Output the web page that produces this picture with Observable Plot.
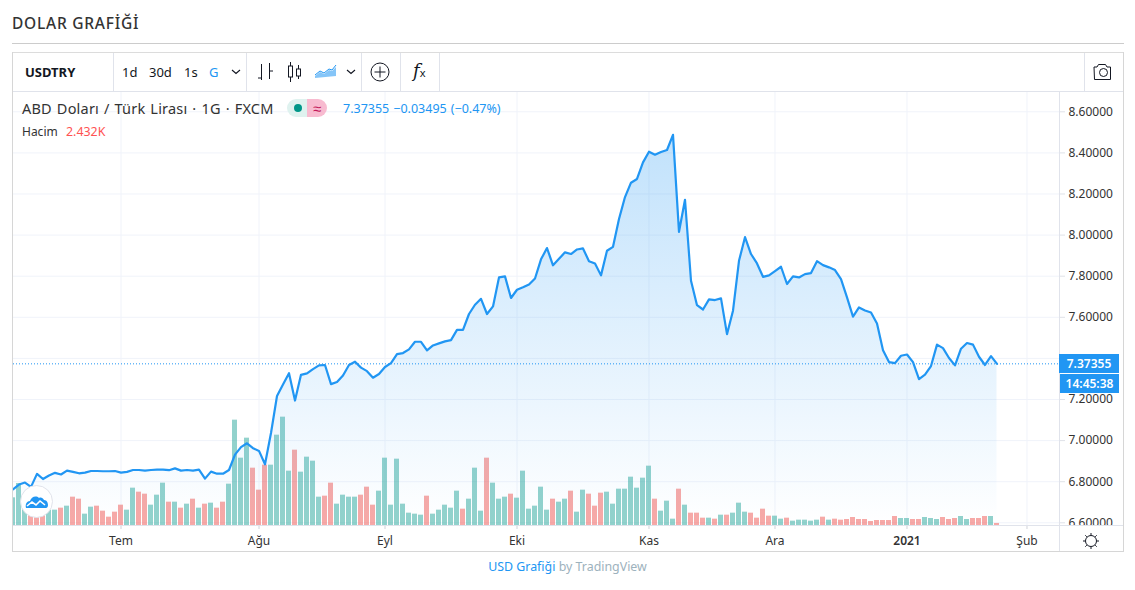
<!DOCTYPE html>
<html lang="tr"><head><meta charset="utf-8">
<script src="https://cdn.jsdelivr.net/npm/d3@7"></script>
<script src="https://cdn.jsdelivr.net/npm/@observablehq/plot@0.6"></script>
<style>
html,body{margin:0;padding:0;background:#fff;}
body{width:1135px;height:590px;position:relative;overflow:hidden;font-family:"Noto Sans",sans-serif;color:#333;}
.a{position:absolute;white-space:nowrap;}
.l{position:absolute;background:#e0e3eb;}
svg{display:block;}
#main,#xaxis{position:absolute;left:0;}
#main{top:92px;} #xaxis{top:526px;}
.tb{font-size:13px;color:#131722;line-height:16px;}
</style></head><body>
<div class="a" style="left:12px;top:13px;font-size:15.5px;font-weight:500;letter-spacing:.75px;color:#333;line-height:20px;">DOLAR GRAFİĞİ</div>
<div class="l" style="left:12px;top:43px;width:1112px;height:1px;background:#ccc;"></div>
<div id="main"></div><div id="xaxis"></div>
<div class="l" style="left:12px;top:52px;width:1112px;height:1px;background:#dcdcdc"></div>
<div class="l" style="left:12px;top:551px;width:1112px;height:1px;background:#d6d6d6"></div>
<div class="l" style="left:12px;top:52px;width:1px;height:500px;background:#d6d6d6"></div>
<div class="l" style="left:1123px;top:52px;width:1px;height:500px;background:#d6d6d6"></div>
<div class="l" style="left:13px;top:91px;width:1110px;height:1px"></div>
<div class="l" style="left:13px;top:525px;width:1110px;height:1px"></div>
<div class="l" style="left:1059px;top:92px;width:1px;height:459px"></div>
<div class="l" style="left:113px;top:53px;width:1px;height:38px"></div>
<div class="l" style="left:246px;top:53px;width:1px;height:38px"></div>
<div class="l" style="left:361px;top:53px;width:1px;height:38px"></div>
<div class="l" style="left:400px;top:53px;width:1px;height:38px"></div>
<div class="l" style="left:439px;top:53px;width:1px;height:38px"></div>
<div class="l" style="left:1084px;top:53px;width:1px;height:38px"></div>
<div class="a tb" style="left:25px;top:64px;font-weight:700;font-size:13px;">USDTRY</div>
<div class="a tb" style="left:122px;top:64px;">1d</div>
<div class="a tb" style="left:149px;top:64px;">30d</div>
<div class="a tb" style="left:184px;top:64px;">1s</div>
<div class="a tb" style="left:209px;top:64px;color:#2196f3;">G</div>
<svg class="a" style="left:0;top:0;pointer-events:none" width="1135" height="590" fill="none" stroke="#131722" stroke-width="1">
 <path d="M232 70l4 3.5 4-3.5M347 70l4 3.5 4-3.5" stroke-width="1.1"/>
 <path d="M261.5 64v16M258 78h3.5M269.5 63v16M269.5 71h3.5"/>
 <rect x="288.5" y="66" width="4" height="11"/><path d="M290.5 62v4M290.5 77v5"/>
 <rect x="296.5" y="69" width="4" height="7"/><path d="M298.5 65v4M298.5 76v3"/>
 <path d="M315 75l5-4 4 2 5-4 3 1 4-5" stroke="#2196f3"/>
 <path d="M315 78v-2l5-4 4 2 5-4 3 1 4-4v9z" fill="#2196f3" opacity=".55" stroke="none"/>
 <circle cx="380" cy="72" r="9"/><path d="M380 66.5v11M374.5 72h11"/>
 <path d="M1094 66h3l1.5-2.5h7l1.5 2.5h3.5v12.5h-16z" stroke-linejoin="round" transform="translate(0,1)"/>
 <circle cx="1103.5" cy="72.5" r="4"/>
 <g transform="translate(1091,541)"><circle r="5.5"/><path d="M0-8v2M0 6v2M-8 0h2M6 0h2M-5.7-5.7l1.5 1.5M4.2 4.2l1.5 1.5M-5.7 5.7l1.5-1.5M4.2-4.2l1.5-1.5"/></g>
</svg>
<div class="a" style="left:413px;top:60px;font-family:'DejaVu Serif',serif;font-style:italic;font-size:18px;line-height:22px;color:#131722;">f<span style="font-size:11px;font-style:normal;font-family:'Noto Sans'">x</span></div>
<div class="a" style="left:22px;top:99px;font-size:14.5px;line-height:19px;color:#333;word-spacing:1px;letter-spacing:.2px;">ABD Doları / Türk Lirası · 1G · FXCM</div>
<svg class="a" style="left:287px;top:99px" width="40" height="18"><path d="M9 0H20V18H9A9 9 0 0 1 9 0z" fill="#dff2ef"/><path d="M20 0H31A9 9 0 0 1 31 18H20z" fill="#f8bbd0"/><circle cx="11" cy="9" r="4" fill="#009688"/></svg>
<div class="a" style="left:307px;top:99px;width:20px;text-align:center;font-size:15px;line-height:18px;color:#c2185b;">≈</div>
<div class="a" style="left:343px;top:100px;font-size:12.5px;line-height:18px;color:#2196f3;word-spacing:.8px;" id="vals"></div>
<div class="a" style="left:22px;top:124px;font-size:12px;line-height:16px;color:#333;">Hacim</div>
<div class="a" style="left:66px;top:124px;font-size:12.4px;line-height:16px;color:#ff5252;" id="volv"></div>
<div class="a" id="pl" style="left:1059px;width:60px;height:19px;background:#2196f3;color:#fff;font-weight:600;font-size:12px;line-height:19px;text-align:center;"></div>
<div class="a" id="tl" style="left:1060px;width:59px;height:19px;background:#2196f3;color:#fff;font-weight:600;font-size:12px;line-height:19px;text-align:center;">14:45:38</div>
<svg class="a" style="left:20px;top:485px" width="33" height="33">
 <circle cx="16.5" cy="16.5" r="16" fill="#fff" stroke="#e0e3eb"/>
 <path d="M6 23c-1-4 1-7 4-7 1-4 6-6 9-3 2-1 4 0 5 2 3 0 4 3 4 5 0 2-1 3-2 3z" fill="#2196f3"/>
 <path d="M7 21l5-4 4 3 4-4 5 4" stroke="#fff" stroke-width="1.6" fill="none"/>
</svg>
<div class="a" style="left:0;width:1135px;top:558px;text-align:center;font-size:12.4px;line-height:18px;color:#9db2bd;"><span style="color:#2196f3">USD Grafiği</span> by TradingView</div>
<script>
const price = [6.763,6.786,6.796,6.775,6.838,6.813,6.830,6.843,6.835,6.854,6.848,6.841,6.844,6.852,6.852,6.851,6.851,6.852,6.844,6.848,6.857,6.857,6.854,6.857,6.859,6.859,6.856,6.865,6.854,6.857,6.854,6.859,6.815,6.849,6.839,6.839,6.857,6.932,6.968,6.987,6.963,6.950,6.885,7.037,7.217,7.273,7.328,7.195,7.320,7.327,7.348,7.366,7.368,7.275,7.285,7.317,7.368,7.384,7.355,7.338,7.306,7.324,7.358,7.377,7.421,7.426,7.444,7.481,7.481,7.439,7.463,7.473,7.483,7.489,7.539,7.539,7.616,7.661,7.690,7.616,7.653,7.794,7.799,7.694,7.734,7.746,7.760,7.789,7.882,7.937,7.853,7.885,7.916,7.908,7.930,7.935,7.873,7.862,7.804,7.924,7.943,8.078,8.185,8.255,8.273,8.354,8.406,8.391,8.404,8.414,8.488,8.016,8.172,7.778,7.659,7.638,7.687,7.684,7.692,7.518,7.632,7.875,7.990,7.908,7.862,7.797,7.804,7.825,7.846,7.762,7.799,7.794,7.810,7.815,7.873,7.854,7.843,7.830,7.786,7.697,7.603,7.648,7.633,7.623,7.570,7.440,7.382,7.377,7.413,7.419,7.382,7.299,7.321,7.363,7.467,7.450,7.402,7.366,7.447,7.475,7.467,7.408,7.368,7.411,7.37355];
const volume = [33.2,50.4,32,12,19.2,12,18.4,18.4,20.8,23.2,34,31.6,13.6,22,23.2,17.2,10,16,24.4,18.4,44.8,40,37.6,24.4,36.4,50.8,28,28,20.8,25.6,31.6,20.8,25.6,26.8,20.8,28,49.6,126.4,80.8,104.8,68.8,42.4,72.4,72.4,108.4,130,65.2,90.4,64,82,77.2,34,35.2,50.8,25.6,36.4,34,34,36.4,46,24.4,41.2,80.8,24.4,79.6,25.6,14.8,13.6,12.4,35.2,13.6,18.4,24.4,20.8,41.2,19.6,31.6,68.8,17.2,80.8,50.8,31.6,34,37.6,32.8,65.2,19.6,23.2,46,18.4,31.6,28,31.6,41.2,16,42.4,37.6,23.2,38.8,40,25.6,43.6,43.6,58,44.8,56.8,71.2,31.6,17.2,29.2,7.6,43.6,24.4,14.8,14.8,8.8,8.8,7.6,12.4,12.4,14.8,26.8,16,14.8,8.8,19.6,11.2,11.2,7.6,8.8,5.2,6.4,6.4,5.2,6.4,10,6.4,7.6,6.4,7.2,9.6,7.2,7.2,4.8,6,6,6,10.8,8.4,8.4,7.2,7.2,9.6,8.4,7.2,9.6,7.2,8.4,10.8,7.2,8.4,8.4,10.8,10.8,2.432];
const pinkBars = [3,4,5,8,10,11,14,15,16,17,18,21,22,26,28,30,32,34,35,40,41,42,47,52,53,58,59,60,69,75,79,83,90,93,96,97,98,107,111,113,114,115,117,119,123,124,125,126,129,135,137,138,139,140,141,142,143,144,145,146,147,150,151,155,156,157,160,161,162,164];
const monthTicks = [18,41,62,84,106,127,149,169];
const monthLabels = ["Tem","Ağu","Eyl","Eki","Kas","Ara","2021","Şub"];
const gridTicks = [6.6,6.8,7.0,7.2,7.4,7.6,7.8,8.0,8.2,8.4,8.6];
const priceLabels = [6.6,6.8,7.0,7.2,7.6,7.8,8.0,8.2,8.4,8.6];
const lastPrice = 7.37355, change = "−0.03495", changePct = "(−0.47%)", lastVolume = "2.432K";

document.getElementById("vals").textContent = `${lastPrice.toFixed(5)} ${change} ${changePct}`;
document.getElementById("volv").textContent = lastVolume;

const rows = price.map((p,i)=>({i,p,v:volume[i],pink:pinkBars.includes(i)}));
const yMin = 6.5869, yMax = 8.6939;
const xDomain = [0.0833,174.4167];
const barHalf = 5/12;
const volToPrice = v => yMin + v*0.004055;
const grid = "#f0f3fa";

const gradient = () => {
  const s = d3.create("svg:defs");
  const g = s.append("linearGradient").attr("id","af").attr("x1",0).attr("x2",0).attr("y1",0).attr("y2",1);
  g.append("stop").attr("offset","0").attr("stop-color","#2196f3").attr("stop-opacity",0.28);
  g.append("stop").attr("offset","1").attr("stop-color","#2196f3").attr("stop-opacity",0);
  return s.node();
};

const main = Plot.plot({
  width:1135, height:433, marginLeft:13, marginRight:76, marginTop:0, marginBottom:0,
  style:{background:"transparent",fontFamily:"'Noto Sans',sans-serif",fontSize:"12px"},
  x:{domain:xDomain,axis:null},
  y:{domain:[yMin,yMax],axis:null},
  marks:[
    gradient,
    Plot.ruleY(gridTicks,{stroke:grid,strokeWidth:1}),
    Plot.ruleX(monthTicks,{stroke:grid,strokeWidth:1}),
    Plot.axisY(priceLabels,{anchor:"right",ticks:priceLabels,tickSize:5,tickPadding:4,stroke:"#dfe2e8",fill:"#333",tickFormat:d=>d.toFixed(5),label:null}),
    Plot.rectY(rows,{x1:d=>d.i-barHalf,x2:d=>d.i+barHalf,y1:()=>yMin,y2:d=>volToPrice(d.v),fill:d=>d.pink?"#ef5350":"#26a69a",fillOpacity:0.5,inset:0,clip:true}),
    Plot.areaY(rows,{x:"i",y1:()=>yMin,y2:"p",fill:"url(#af)",clip:true}),
    Plot.ruleY([lastPrice],{stroke:"#2196f3",strokeDasharray:"1,2",strokeWidth:1}),
    Plot.line(rows,{x:"i",y:"p",stroke:"#2196f3",strokeWidth:2.2,strokeLinejoin:"round",clip:true})
  ]
});
document.getElementById("main").append(main);

const xa = Plot.plot({
  width:1135, height:25, marginLeft:13, marginRight:76, marginTop:0, marginBottom:25,
  style:{background:"transparent",fontFamily:"'Noto Sans',sans-serif",fontSize:"12px"},
  x:{domain:xDomain,axis:null},
  marks:[Plot.axisX(monthTicks,{ticks:monthTicks,anchor:"bottom",tickSize:3,tickPadding:7,stroke:"#d0d3da",fill:"#333",label:null,tickFormat:d=>monthLabels[monthTicks.indexOf(d)]})]
});
document.getElementById("xaxis").append(xa);
d3.select(xa).selectAll("text").filter(function(){return this.textContent==="2021"}).attr("font-weight",600);

const yy = 92 + main.scale("y").apply(lastPrice);
document.getElementById("pl").textContent = lastPrice.toFixed(5);
document.getElementById("pl").style.top = (yy-9.5)+"px";
document.getElementById("tl").style.top = (yy+10.5)+"px";
</script>
</body></html>
